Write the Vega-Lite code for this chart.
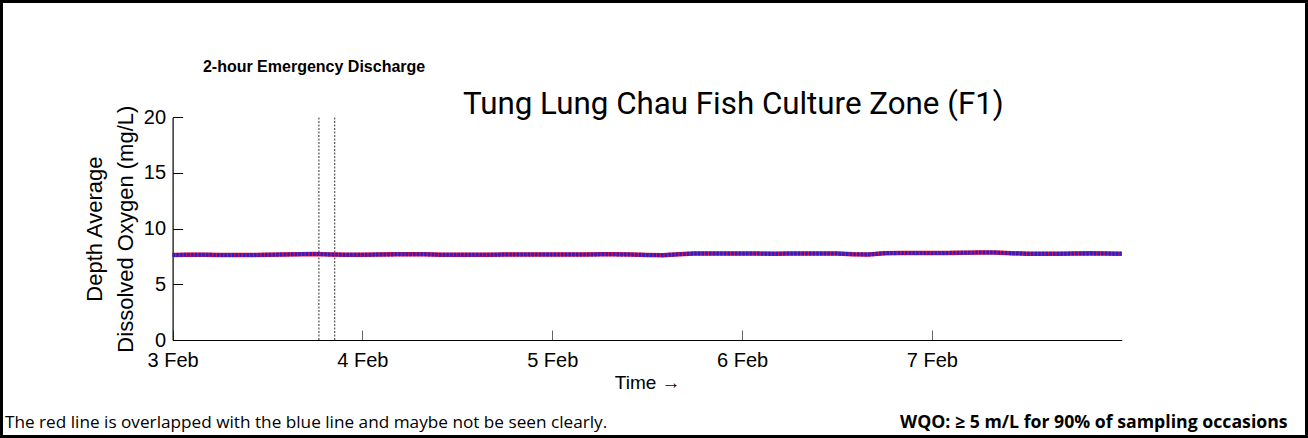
{
  "$schema": "https://vega.github.io/schema/vega-lite/v6.json",
  "width": 1308,
  "height": 438,
  "autosize": {"type": "none"},
  "padding": 0,
  "background": "white",
  "config": {
    "view": {"stroke": "black", "strokeWidth": 6},
    "font": "Liberation Sans"
  },
  "datasets": {
    "do": [
      {"time": "2024-02-03T00:00:00", "DO": 7.64}, {"time": "2024-02-03T02:00:00", "DO": 7.65}, {"time": "2024-02-03T04:00:00", "DO": 7.65}, {"time": "2024-02-03T06:00:00", "DO": 7.64}, {"time": "2024-02-03T08:00:00", "DO": 7.64}, {"time": "2024-02-03T10:00:00", "DO": 7.63}, {"time": "2024-02-03T12:00:00", "DO": 7.65}, {"time": "2024-02-03T14:00:00", "DO": 7.68}, {"time": "2024-02-03T16:00:00", "DO": 7.71}, {"time": "2024-02-03T18:00:00", "DO": 7.73}, {"time": "2024-02-03T20:00:00", "DO": 7.68}, {"time": "2024-02-03T22:00:00", "DO": 7.66},
      {"time": "2024-02-04T00:00:00", "DO": 7.66}, {"time": "2024-02-04T02:00:00", "DO": 7.67}, {"time": "2024-02-04T04:00:00", "DO": 7.69}, {"time": "2024-02-04T06:00:00", "DO": 7.71}, {"time": "2024-02-04T08:00:00", "DO": 7.69}, {"time": "2024-02-04T10:00:00", "DO": 7.66}, {"time": "2024-02-04T12:00:00", "DO": 7.65}, {"time": "2024-02-04T14:00:00", "DO": 7.65}, {"time": "2024-02-04T16:00:00", "DO": 7.66}, {"time": "2024-02-04T18:00:00", "DO": 7.67}, {"time": "2024-02-04T20:00:00", "DO": 7.67}, {"time": "2024-02-04T22:00:00", "DO": 7.68},
      {"time": "2024-02-05T00:00:00", "DO": 7.68}, {"time": "2024-02-05T02:00:00", "DO": 7.68}, {"time": "2024-02-05T04:00:00", "DO": 7.68}, {"time": "2024-02-05T06:00:00", "DO": 7.69}, {"time": "2024-02-05T08:00:00", "DO": 7.69}, {"time": "2024-02-05T10:00:00", "DO": 7.67}, {"time": "2024-02-05T12:00:00", "DO": 7.64}, {"time": "2024-02-05T14:00:00", "DO": 7.62}, {"time": "2024-02-05T16:00:00", "DO": 7.70}, {"time": "2024-02-05T18:00:00", "DO": 7.77}, {"time": "2024-02-05T20:00:00", "DO": 7.77}, {"time": "2024-02-05T22:00:00", "DO": 7.76},
      {"time": "2024-02-06T00:00:00", "DO": 7.76}, {"time": "2024-02-06T02:00:00", "DO": 7.76}, {"time": "2024-02-06T04:00:00", "DO": 7.75}, {"time": "2024-02-06T06:00:00", "DO": 7.76}, {"time": "2024-02-06T08:00:00", "DO": 7.77}, {"time": "2024-02-06T10:00:00", "DO": 7.77}, {"time": "2024-02-06T12:00:00", "DO": 7.76}, {"time": "2024-02-06T14:00:00", "DO": 7.70}, {"time": "2024-02-06T16:00:00", "DO": 7.68}, {"time": "2024-02-06T18:00:00", "DO": 7.80}, {"time": "2024-02-06T20:00:00", "DO": 7.82}, {"time": "2024-02-06T22:00:00", "DO": 7.82},
      {"time": "2024-02-07T00:00:00", "DO": 7.82}, {"time": "2024-02-07T02:00:00", "DO": 7.82}, {"time": "2024-02-07T04:00:00", "DO": 7.84}, {"time": "2024-02-07T06:00:00", "DO": 7.85}, {"time": "2024-02-07T08:00:00", "DO": 7.85}, {"time": "2024-02-07T10:00:00", "DO": 7.80}, {"time": "2024-02-07T12:00:00", "DO": 7.75}, {"time": "2024-02-07T14:00:00", "DO": 7.75}, {"time": "2024-02-07T16:00:00", "DO": 7.75}, {"time": "2024-02-07T18:00:00", "DO": 7.76}, {"time": "2024-02-07T20:00:00", "DO": 7.78}, {"time": "2024-02-07T22:00:00", "DO": 7.76},
      {"time": "2024-02-08T00:00:00", "DO": 7.75}
    ],
    "events": [
      {"time": "2024-02-03T18:30:00", "event": "discharge start"},
      {"time": "2024-02-03T20:30:00", "event": "discharge end"}
    ]
  },
  "layer": [
    {
      "data": {"name": "events"},
      "mark": {"type": "rule", "color": "#333333", "strokeWidth": 1, "strokeDash": [2, 1.5]},
      "encoding": {
        "x": {
          "field": "time", "type": "temporal",
          "scale": {"domain": [{"year": 2024, "month": "feb", "date": 3}, {"year": 2024, "month": "feb", "date": 8}], "range": [172.6, 1121.7]},
          "axis": {
            "values": [
              {"year": 2024, "month": "feb", "date": 3},
              {"year": 2024, "month": "feb", "date": 4},
              {"year": 2024, "month": "feb", "date": 5},
              {"year": 2024, "month": "feb", "date": 6},
              {"year": 2024, "month": "feb", "date": 7}
            ],
            "format": "%-d %b",
            "offset": -98,
            "grid": false,
            "domainColor": "black",
            "domainWidth": 1.2,
            "tickColor": "#666666",
            "tickSize": -10,
            "labelPadding": 20,
            "labelFontSize": 20,
            "labelColor": "black",
            "labelFont": "Liberation Sans",
            "title": "Time →",
            "titleFontSize": 19,
            "titleFontWeight": "normal",
            "titleColor": "black",
            "titlePadding": 3,
            "labelFlush": false
          }
        },
        "y": {
          "datum": 0, "type": "quantitative",
          "scale": {"domain": [0, 20], "range": [340, 117.3], "nice": false, "zero": false},
          "axis": {
            "values": [0, 5, 10, 15, 20],
            "offset": -172.6,
            "grid": false,
            "domainColor": "black",
            "domainWidth": 1.2,
            "tickColor": "black",
            "tickSize": -10,
            "labelPadding": 17,
            "labelFontSize": 20,
            "labelColor": "black",
            "labelFont": "Liberation Sans",
            "title": ["Depth Average", "Dissolved Oxygen (mg/L)"],
            "titleFontSize": 22,
            "titleFontWeight": "normal",
            "titleColor": "black",
            "titlePadding": 6,
            "titleLineHeight": 31,
            "labelFlush": false
          }
        },
        "y2": {"datum": 20}
      }
    },
    {
      "data": {"name": "do"},
      "mark": {"type": "line", "color": "#e0103a", "strokeWidth": 4.5},
      "encoding": {
        "x": {"field": "time", "type": "temporal"},
        "y": {"field": "DO", "type": "quantitative"}
      }
    },
    {
      "data": {"name": "do"},
      "mark": {"type": "line", "color": "#2a1fd0", "strokeWidth": 4, "strokeDash": [2.5, 1.2]},
      "encoding": {
        "x": {"field": "time", "type": "temporal"},
        "y": {"field": "DO", "type": "quantitative"}
      }
    },
    {
      "data": {"values": [{"label": "2-hour Emergency Discharge"}]},
      "mark": {"type": "text", "font": "Liberation Sans", "fontWeight": "bold", "fontSize": 16, "align": "center", "baseline": "middle", "color": "black"},
      "encoding": {
        "x": {"datum": {"year": 2024, "month": "feb", "date": 3, "hours": 17, "minutes": 53}, "type": "temporal"},
        "y": {"datum": 24.53, "type": "quantitative"},
        "text": {"field": "label"}
      }
    },
    {
      "data": {"values": [{"label": "Tung Lung Chau Fish Culture Zone (F1)"}]},
      "mark": {"type": "text", "font": "Roboto", "fontSize": 31.3, "align": "center", "baseline": "alphabetic", "color": "black"},
      "encoding": {
        "x": {"datum": {"year": 2024, "month": "feb", "date": 5, "hours": 22, "minutes": 54}, "type": "temporal"},
        "y": {"datum": 20.3, "type": "quantitative"},
        "text": {"field": "label"}
      }
    },
    {
      "data": {"values": [{"label": "The red line is overlapped with the blue line and maybe not be seen clearly."}]},
      "mark": {"type": "text", "font": "Open Sans", "fontSize": 17.2, "align": "left", "baseline": "middle", "color": "black"},
      "encoding": {
        "x": {"datum": {"year": 2024, "month": "feb", "date": 2, "hours": 2, "minutes": 48}, "type": "temporal"},
        "y": {"datum": -7.46, "type": "quantitative"},
        "text": {"field": "label"}
      }
    },
    {
      "data": {"values": [{"label": "WQO: ≥ 5 m/L for 90% of sampling occasions"}]},
      "mark": {"type": "text", "font": "Open Sans", "fontWeight": "bold", "fontSize": 17.7, "align": "right", "baseline": "middle", "color": "black"},
      "encoding": {
        "x": {"datum": {"year": 2024, "month": "feb", "date": 8, "hours": 20, "minutes": 59}, "type": "temporal"},
        "y": {"datum": -7.46, "type": "quantitative"},
        "text": {"field": "label"}
      }
    }
  ]
}
